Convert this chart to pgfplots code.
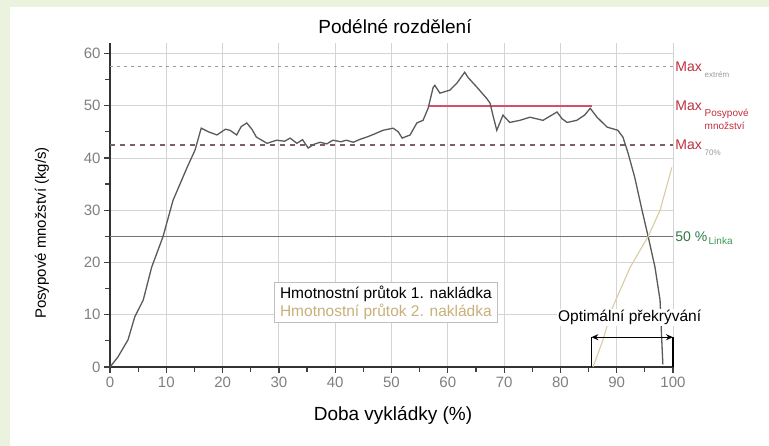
\documentclass[border=0pt]{standalone}
\usepackage{pgfplots}
\pgfplotsset{compat=1.18}
\usepackage{fontspec}
\setmainfont{Liberation Sans}
\usetikzlibrary{arrows.meta}
\definecolor{bggreen}{HTML}{EBF3DF}
\definecolor{gridc}{HTML}{D4D4D4}
\definecolor{ser1}{HTML}{5A5A5A}
\definecolor{ser2}{HTML}{D9CBA3}
\definecolor{tanT}{HTML}{C8B07A}
\definecolor{redL}{HTML}{D4506A}
\definecolor{redT}{HTML}{C0303E}
\definecolor{greenT}{HTML}{3A9A55}
\definecolor{dashC}{HTML}{7E5E62}
\begin{document}
\begin{tikzpicture}[x=1pt,y=1pt]
\useasboundingbox (0,0) rectangle (769,446);
\fill[bggreen] (0,0) rectangle (769,446);
\fill[white] (10,0) rectangle (769,439);
\begin{axis}[
  at={(110pt,79pt)}, anchor=south west,
  scale only axis, width=563pt, height=324pt,
  xmin=0, xmax=100, ymin=0, ymax=62,
  axis x line*=bottom, axis y line*=left,
  axis line style={line width=1.6pt, color=black!80},
  xtick={0,10,...,100}, ytick={0,10,...,60},
  minor x tick num=1, minor y tick num=1,
  tick align=outside,
  major tick length=6pt, minor tick length=5pt,
  tick style={line width=1.2pt, color=black!75},
  grid=major,
  major grid style={gridc, line width=0.9pt},
  ticklabel style={font=\fontsize{15}{15}\selectfont, text=black!50},
  /pgf/number format/assume math mode=true,
  clip=false,
  legend style={at={(axis cs:49,12.4)}, anchor=center, draw=black!25, line width=0.8pt,
    font=\fontsize{15.5}{19}\selectfont, inner xsep=4pt, inner ysep=2pt, row sep=0pt},
  legend cell align=left,
  legend image code/.code={},
]
% reference lines
\addplot[forget plot, black!40, line width=1.2pt, dash pattern=on 3pt off 4pt] coordinates {(0,57.5) (100,57.5)};
\addplot[forget plot, dashC, line width=1.6pt, dash pattern=on 5pt off 5pt] coordinates {(0,42.5) (100,42.5)};
\addplot[forget plot, black!55, line width=1.1pt] coordinates {(0,25) (100,25)};
\addplot[forget plot, redL, line width=1.6pt] coordinates {(56.5,50) (85.6,50)};
% series
\addplot[ser1, line width=1.3pt] coordinates {
(0,0) (1.4,1.9) (3.2,5.2) (4.4,9.6) (5.9,12.8) (7.4,19.1) (9.4,24.9) (11.2,31.9) (13.7,38.2) (15.1,41.5)
(16.2,45.7) (17.5,45) (19,44.4) (20.5,45.5) (21.3,45.3) (22.5,44.4) (23.3,46) (24.3,46.7) (25.2,45.5) (26,44)
(27.9,42.8) (29.6,43.4) (31,43.2) (32,43.8) (33.2,42.8) (34.2,43.5) (35.2,41.9) (36.2,42.6) (37.3,43) (38.5,42.7)
(39.6,43.4) (41,43.1) (42,43.4) (43.2,43) (44.5,43.6) (45.6,44) (47,44.6) (48.5,45.3) (50.3,45.7) (51.2,45)
(51.9,43.8) (53.3,44.4) (54.5,46.7) (55.6,47.2) (56.5,49.5) (57.4,53.5) (57.7,53.9) (58.6,52.4) (60.4,53) (61.6,54.3)
(63,56.4) (63.6,55.4) (65.2,53.5) (66.9,51.4) (67.5,50.5) (68.1,47.8) (68.7,45.3) (69.8,48.2) (71,46.8) (72.8,47.2)
(74.6,47.8) (76.9,47.2) (79.4,48.8) (80.3,47.5) (81.2,46.8) (82.9,47.2) (84.3,48.2) (85.3,49.5) (86.5,47.8) (88.3,45.9)
(90.2,45.3) (91.1,44) (92,41) (93.2,36.3) (94.5,30) (95.6,24.9) (96.8,19.1) (97.7,12.8) (98,5.2) (98.2,0.5)
};
\addlegendentry[text=black]{Hmotnostní průtok 1. nakládka}
\addplot[ser2, line width=1.1pt] coordinates {
(85.8,0) (87.5,5) (89.3,11.5) (92.4,19.1) (95.6,25) (97.7,30) (99.8,38.2)
};
\addlegendentry[text=tanT]{Hmotnostní průtok 2. nakládka}
% optimal overlap bracket
\draw[black, line width=1.4pt] (axis cs:85.5,0) -- (axis cs:85.5,5.7);
\draw[black, line width=1.4pt] (axis cs:100,0) -- (axis cs:100,5.7);
\draw[black, line width=1.4pt, {Stealth[length=7pt,width=6pt]}-{Stealth[length=7pt,width=6pt]}] (axis cs:85.5,5.7) -- (axis cs:100,5.7);
\node[anchor=south, font=\fontsize{15.5}{15.5}\selectfont, fill=white, inner sep=1pt] at (axis cs:92.3,7.8) {Optimální překrývání};
% right labels
\node[anchor=west, text=redT, font=\fontsize{14}{14}\selectfont, inner sep=0pt] at (axis cs:100.4,57.5) {Max};
\node[anchor=north west, text=black!40, font=\fontsize{8}{8}\selectfont, inner sep=0pt] at (axis cs:105.6,56.5) {extrém};
\node[anchor=west, text=redT, font=\fontsize{14}{14}\selectfont, inner sep=0pt] at (axis cs:100.4,50) {Max};
\node[anchor=north west, text=redT, font=\fontsize{10}{13}\selectfont, inner sep=0pt, align=left] at (axis cs:105.6,49.3) {Posypové\\množství};
\node[anchor=west, text=redT, font=\fontsize{14}{14}\selectfont, inner sep=0pt] at (axis cs:100.4,42.5) {Max};
\node[anchor=north west, text=black!40, font=\fontsize{8}{8}\selectfont, inner sep=0pt] at (axis cs:105.6,41.5) {70\%};
\node[anchor=west, text=greenT!80!black, font=\fontsize{14}{14}\selectfont, inner sep=0pt] at (axis cs:100.4,25) {50 \%};
\node[anchor=north west, text=greenT, font=\fontsize{10}{10}\selectfont, inner sep=0pt] at (axis cs:106.3,24.8) {Linka};
\end{axis}
\node[font=\fontsize{19}{19}\selectfont] at (395,419) {Podélné rozdělení};
\node[font=\fontsize{19}{19}\selectfont] at (393,31) {Doba vykládky (\%)};
\node[rotate=90, font=\fontsize{15}{15}\selectfont] at (42,213) {Posypové množství (kg/s)};
\end{tikzpicture}
\end{document}
